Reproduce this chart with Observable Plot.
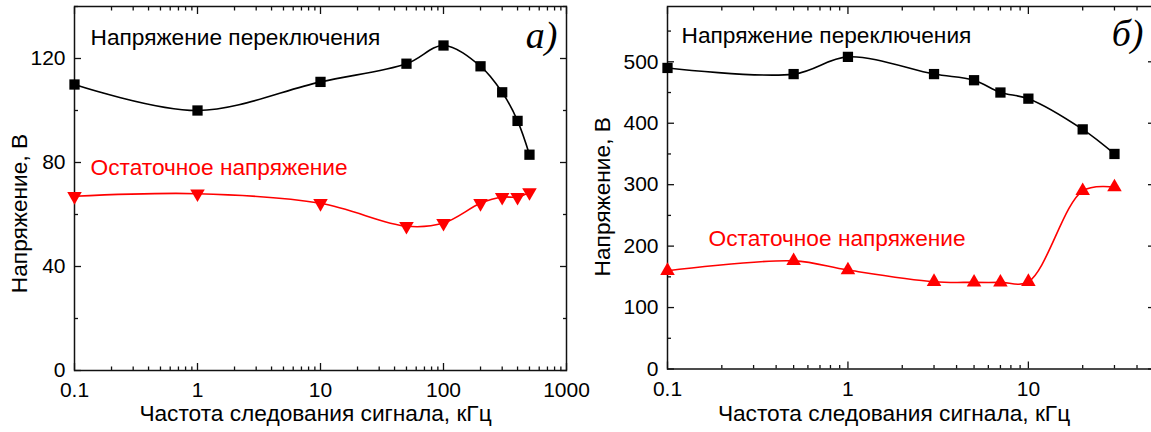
<!DOCTYPE html>
<html><head><meta charset="utf-8">
<script src="https://cdn.jsdelivr.net/npm/d3@7"></script>
<script src="https://cdn.jsdelivr.net/npm/@observablehq/plot@0.6"></script>
<style>
html,body{margin:0;padding:0;background:#fff;overflow:hidden}
#wrap{position:relative;width:1151px;height:432px;overflow:hidden;background:#fff}
#wrap svg{position:absolute;top:0}
</style></head><body><div id="wrap"></div>
<script>
// ---- data: panel a)
const freqA = [0.1, 1, 10, 50, 100, 200, 300, 400, 500];
const switchA = [110, 100, 111, 118, 125, 117, 107, 96, 83];
const residualA = [67, 68, 64.3, 55.5, 56.7, 64.3, 66.7, 66.7, 68.5];
// ---- data: panel б)
const freqB = [0.1, 0.5, 1, 3, 5, 7, 10, 20, 30];
const switchB = [490, 480, 508, 480, 470, 450, 440, 390, 350];
const residualB = [160, 176, 161, 142, 141, 141, 142, 290, 296];
// ---- ticks / labels
const xMajorA = [0.1, 1, 10, 100, 1000];
const xMajorB = [0.1, 1, 10];
const yMajorA = [0, 40, 80, 120];
const yMinorA = [20, 60, 100, 140];
const yMajorB = [0, 100, 200, 300, 400, 500];
const yMinorB = [50, 150, 250, 350, 450, 550];
const labelSwitch = "Напряжение переключения";
const labelResidual = "Остаточное напряжение";
const labelY = "Напряжение, В";
const labelX = "Частота следования сигнала, кГц";

const sqrt3 = Math.sqrt(3);
const triangleDown = {draw(ctx, size) {
  const y = -Math.sqrt(size / (sqrt3 * 3));
  ctx.moveTo(0, -y * 2);
  ctx.lineTo(-sqrt3 * y, y);
  ctx.lineTo(sqrt3 * y, y);
  ctx.closePath();
}};

const RED = "#ff0000";
const FONT = "Liberation Sans, Arial, sans-serif";
const LABEL_SIZE = 22.7;

function fmt(d) { return String(d); }

function panel(o) {
  const rows = o.freq.map((f, i) => ({f, s: o.sw[i], r: o.res[i]}));
  const xMinor = d3.scaleLog().domain(o.xDomain).ticks().filter(t => !o.xMajor.some(m => Math.abs(m - t) < 1e-9));
  const tick = (anchor, ticks, size) => {
    const d = anchor === "bottom" ? {dy: -size} : anchor === "top" ? {dy: size} : anchor === "left" ? {dx: size} : {dx: -size};
    return (anchor === "bottom" || anchor === "top" ? Plot.axisX : Plot.axisY)({
      anchor, ticks, tickSize: size, tickFormat: () => "", label: null, strokeWidth: 1.3, stroke: "#111", ...d
    });
  };
  return Plot.plot({
    width: o.width, height: 432,
    marginLeft: o.ml, marginRight: o.mr, marginTop: 6, marginBottom: o.mb,
    style: {fontFamily: FONT, fontSize: "21px", background: "transparent", overflow: "visible", color: "#000"},
    x: {type: "log", domain: o.xDomain, label: null},
    y: {domain: o.yDomain, label: null},
    marks: [
      tick("bottom", o.xMajor, 7), tick("bottom", xMinor, 3.5),
      tick("top", o.xMajor, 7), tick("top", xMinor, 3.5),
      tick("left", o.yMajor, 7), tick("left", o.yMinor, 4),
      tick("right", o.yMajor, 7), tick("right", o.yMinor, 4),
      Plot.axisX({anchor: "bottom", ticks: o.xMajor, tickSize: 0, tickPadding: 12, tickFormat: fmt, label: null, fill: "#000"}),
      Plot.axisY({anchor: "left", ticks: o.yMajor, tickSize: 0, tickPadding: 9, tickFormat: fmt, label: null, fill: "#000"}),
      Plot.frame({stroke: "#111", strokeWidth: 1.5}),
      Plot.line(rows, {x: "f", y: "s", curve: "catmull-rom", stroke: "#000", strokeWidth: 1.6}),
      Plot.line(rows, {x: "f", y: "r", curve: "catmull-rom", stroke: RED, strokeWidth: 1.6}),
      Plot.dot(rows, {x: "f", y: "s", symbol: "square", r: 5.8, fill: "#000", stroke: "none"}),
      Plot.dot(rows, {x: "f", y: "r", symbol: o.resSymbol, r: o.resR, fill: RED, stroke: "none"}),
      Plot.text([labelSwitch], {text: d => d, frameAnchor: "top-left", textAnchor: "start", lineAnchor: "middle", dx: o.swDx, dy: o.swDy, fontSize: LABEL_SIZE, fill: "#000"}),
      Plot.text([labelResidual], {text: d => d, frameAnchor: "top-left", textAnchor: "start", lineAnchor: "middle", dx: o.resDx, dy: o.resDy, fontSize: LABEL_SIZE, fill: RED}),
      Plot.text([o.letter], {text: d => d, frameAnchor: "top-right", textAnchor: "end", lineAnchor: "middle", dx: o.letDx, dy: o.letDy, fontSize: 38, fontStyle: "italic", fontFamily: "Liberation Serif, Times New Roman, serif", fill: "#000"}),
      Plot.text([labelY], {text: d => d, frameAnchor: "left", rotate: -90, textAnchor: "middle", lineAnchor: "middle", dx: o.yLabDx, dy: o.yLabDy, fontSize: LABEL_SIZE, fill: "#000"}),
      Plot.text([labelX], {text: d => d, frameAnchor: "bottom", textAnchor: "middle", lineAnchor: "middle", dx: o.xLabDx, dy: o.xLabDy, fontSize: LABEL_SIZE, fill: "#000"})
    ]
  });
}

const wrap = document.getElementById("wrap");

const a = panel({
  freq: freqA, sw: switchA, res: residualA,
  xDomain: [0.1, 1000], yDomain: [0, 140],
  xMajor: xMajorA, yMajor: yMajorA, yMinor: yMinorA,
  resSymbol: triangleDown, resR: 5.4,
  width: 580, ml: 74, mr: 14, mb: 62,
  swDx: 16, swDy: 31, resDx: 16, resDy: 161, letDx: -9, letDy: 29, letter: "а)",
  yLabDx: -55, yLabDy: 25, xLabDx: -5, xLabDy: 43
});
a.style.left = "0px";
wrap.appendChild(a);

const b = panel({
  freq: freqB, sw: switchB, res: residualB,
  xDomain: [0.1, 50], yDomain: [0, 590],
  xMajor: xMajorB, yMajor: yMajorB, yMinor: yMinorB,
  resSymbol: "triangle", resR: 5.4,
  width: 600, ml: 87, mr: 26, mb: 63.5,
  swDx: 14, swDy: 29, resDx: 41, resDy: 232, letDx: -11, letDy: 27, letter: "б)",
  yLabDx: -65, yLabDy: 9, xLabDx: -17, xLabDy: 44.5
});
b.style.left = "580px";
wrap.appendChild(b);
</script>
</body></html>
